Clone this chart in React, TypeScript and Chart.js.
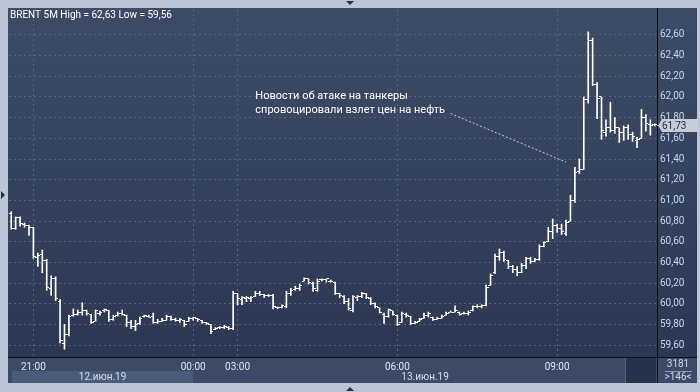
import React, { useEffect, useRef } from 'react';
import { Chart, registerables } from 'chart.js';

Chart.register(...registerables);

// ---- data (5-minute OHLC bars, Brent) ----
const opens = [
  60.87, 60.73, 60.83, 60.77, 60.76, 60.74, 60.45, 60.48, 60.42, 60.15,
  60.24, 60.02, 59.62, 59.70, 59.89, 59.90, 59.92, 59.93, 59.90, 59.83,
  59.91, 59.93, 59.93, 59.85, 59.89, 59.91, 59.89, 59.82, 59.78, 59.81,
  59.88, 59.88, 59.88, 59.82, 59.83, 59.84, 59.88, 59.85, 59.84, 59.84,
  59.83, 59.86, 59.86, 59.84, 59.82, 59.80, 59.75, 59.77, 59.77, 59.77,
  59.76, 60.10, 60.04, 60.05, 60.05, 60.07, 60.10, 60.09, 60.08, 60.08,
  59.96, 59.96, 59.97, 60.10, 60.14, 60.15, 60.22, 60.24, 60.20, 60.13,
  60.23, 60.23, 60.22, 60.21, 60.10, 60.07, 60.02, 59.93, 60.06, 60.07,
  60.10, 60.05, 60.00, 59.96, 59.90, 59.88, 59.93, 59.89, 59.82, 59.90,
  59.88, 59.81, 59.83, 59.86, 59.89, 59.87, 59.85, 59.86, 59.89, 59.92,
  59.92, 59.92, 59.91, 59.91, 59.93, 59.97, 59.97, 59.98, 60.18, 60.30,
  60.46, 60.50, 60.42, 60.36, 60.33, 60.30, 60.37, 60.44, 60.41, 60.43,
  60.55, 60.60, 60.70, 60.76, 60.73, 60.68, 60.80, 61.00, 61.28, 61.30,
  61.98, 62.55, 62.12, 62.00, 61.66, 61.70, 61.68, 61.70, 61.66, 61.70,
  61.64, 61.58, 61.60, 61.80, 61.73, 61.73,
];
const highs = [
  60.89, 60.84, 60.84, 60.78, 60.76, 60.74, 60.49, 60.52, 60.43, 60.27,
  60.26, 60.04, 59.80, 59.89, 59.95, 59.94, 60.01, 59.94, 59.90, 59.94,
  59.93, 59.95, 59.94, 59.89, 59.92, 59.94, 59.89, 59.84, 59.84, 59.87,
  59.89, 59.89, 59.91, 59.85, 59.86, 59.89, 59.88, 59.86, 59.86, 59.84,
  59.87, 59.87, 59.86, 59.84, 59.82, 59.80, 59.77, 59.78, 59.79, 59.78,
  60.12, 60.10, 60.07, 60.07, 60.07, 60.12, 60.12, 60.09, 60.09, 60.09,
  59.97, 59.99, 60.12, 60.15, 60.17, 60.19, 60.25, 60.24, 60.21, 60.24,
  60.24, 60.24, 60.23, 60.21, 60.10, 60.08, 60.05, 60.08, 60.08, 60.11,
  60.10, 60.06, 60.01, 59.96, 59.91, 59.95, 59.93, 59.89, 59.92, 59.91,
  59.88, 59.83, 59.86, 59.91, 59.92, 59.87, 59.87, 59.89, 59.92, 59.93,
  59.98, 59.92, 59.92, 59.93, 59.98, 59.99, 59.99, 60.18, 60.29, 60.48,
  60.53, 60.51, 60.42, 60.37, 60.36, 60.39, 60.45, 60.45, 60.44, 60.57,
  60.60, 60.74, 60.82, 60.77, 60.77, 60.81, 61.05, 61.32, 61.40, 62.00,
  62.63, 62.57, 62.14, 62.00, 61.78, 61.95, 61.80, 61.70, 61.72, 61.73,
  61.66, 61.61, 61.88, 61.83, 61.78, 61.74,
];
const lows = [
  60.72, 60.72, 60.75, 60.74, 60.66, 60.44, 60.36, 60.30, 60.13, 60.08,
  60.03, 59.62, 59.56, 59.69, 59.88, 59.89, 59.89, 59.89, 59.81, 59.83,
  59.89, 59.92, 59.83, 59.84, 59.88, 59.89, 59.78, 59.76, 59.74, 59.80,
  59.87, 59.87, 59.81, 59.81, 59.83, 59.84, 59.84, 59.83, 59.82, 59.78,
  59.83, 59.84, 59.83, 59.81, 59.80, 59.71, 59.75, 59.76, 59.76, 59.75,
  59.75, 59.99, 59.99, 60.02, 60.02, 60.07, 60.08, 60.06, 60.07, 59.95,
  59.95, 59.96, 59.96, 60.08, 60.13, 60.13, 60.22, 60.19, 60.12, 60.12,
  60.22, 60.21, 60.21, 60.09, 60.06, 60.00, 59.94, 59.92, 60.03, 60.06,
  60.05, 59.99, 59.96, 59.91, 59.81, 59.87, 59.89, 59.79, 59.82, 59.87,
  59.80, 59.81, 59.83, 59.86, 59.87, 59.84, 59.85, 59.86, 59.89, 59.92,
  59.92, 59.89, 59.90, 59.89, 59.93, 59.96, 59.96, 59.98, 60.18, 60.29,
  60.42, 60.41, 60.34, 60.30, 60.27, 60.30, 60.34, 60.39, 60.41, 60.42,
  60.55, 60.60, 60.63, 60.69, 60.67, 60.66, 60.80, 60.98, 61.26, 61.30,
  61.94, 62.11, 61.79, 61.59, 61.62, 61.66, 61.65, 61.56, 61.58, 61.59,
  61.57, 61.51, 61.60, 61.67, 61.63, 61.72,
];
const closes = [
  60.73, 60.83, 60.78, 60.76, 60.74, 60.46, 60.47, 60.42, 60.16, 60.24,
  60.05, 59.64, 59.70, 59.88, 59.90, 59.92, 59.93, 59.91, 59.82, 59.93,
  59.92, 59.94, 59.85, 59.88, 59.91, 59.90, 59.82, 59.78, 59.80, 59.86,
  59.89, 59.87, 59.82, 59.83, 59.84, 59.88, 59.85, 59.84, 59.85, 59.80,
  59.86, 59.87, 59.85, 59.82, 59.81, 59.73, 59.76, 59.77, 59.78, 59.76,
  60.10, 60.05, 60.06, 60.06, 60.06, 60.10, 60.09, 60.08, 60.08, 59.97,
  59.96, 59.98, 60.10, 60.13, 60.15, 60.18, 60.24, 60.21, 60.15, 60.22,
  60.23, 60.24, 60.22, 60.10, 60.08, 60.02, 59.95, 60.07, 60.07, 60.10,
  60.06, 60.00, 59.97, 59.92, 59.88, 59.94, 59.90, 59.80, 59.91, 59.89,
  59.81, 59.82, 59.85, 59.89, 59.91, 59.85, 59.86, 59.88, 59.91, 59.92,
  59.93, 59.90, 59.91, 59.92, 59.97, 59.97, 59.98, 60.16, 60.27, 60.46,
  60.50, 60.43, 60.36, 60.33, 60.30, 60.37, 60.44, 60.41, 60.43, 60.55,
  60.59, 60.70, 60.76, 60.73, 60.70, 60.79, 61.00, 61.27, 61.30, 61.98,
  62.55, 62.12, 61.99, 61.68, 61.70, 61.68, 61.70, 61.66, 61.70, 61.64,
  61.62, 61.59, 61.80, 61.74, 61.72, 61.73,
];

// categories: trading sessions of 5-minute bars
const sessions = [
  { start: '20:35', count: 42 },
  { start: '00:05', count: 9 },
  { start: '03:00', count: 95 },
];
const timeTickLabels = ['21:00', '00:00', '03:00', '06:00', '09:00'];
const priceTicks = [
  59.6, 59.8, 60.0, 60.2, 60.4, 60.6, 60.8, 61.0, 61.2, 61.4, 61.6, 61.8,
  62.0, 62.2, 62.4, 62.6,
];
const dateBands = [
  { label: '12.июн.19', from: 0, to: 41 },
  { label: '13.июн.19', from: 41, to: 145 },
];
const instrument = 'BRENT 5M';
const totalBars = 3181;
const noteLines = ['Новости об атаке на танкеры', 'спровоцировали взлет цен на нефть'];
const noteAnchor = { index: 55, price: 62.01 };
const noteLeader = [
  { index: 99, price: 61.84 },
  { index: 125, price: 61.37 },
];

function buildTimes(): string[] {
  const out: string[] = [];
  for (const s of sessions) {
    const [h, m] = s.start.split(':').map(Number);
    let t = h * 60 + m;
    for (let k = 0; k < s.count; k++) {
      const mm = ((t % 1440) + 1440) % 1440;
      out.push(String(Math.floor(mm / 60)).padStart(2, '0') + ':' + String(mm % 60).padStart(2, '0'));
      t += 5;
    }
  }
  return out;
}
const times = buildTimes();

const fmt = (v: number) => v.toFixed(2).replace('.', ',');
const FONT = 'Roboto, "Liberation Sans", Arial, sans-serif';

export default function App() {
  const ref = useRef<HTMLCanvasElement | null>(null);

  useEffect(() => {
    document.body.style.margin = '0';
    const canvas = ref.current!;

    const openTick = document.createElement('canvas');
    openTick.width = 5; openTick.height = 1;
    const oc = openTick.getContext('2d')!;
    oc.fillStyle = '#ffffff'; oc.fillRect(0, 0, 2, 1);
    const closeTick = document.createElement('canvas');
    closeTick.width = 5; closeTick.height = 1;
    const cc = closeTick.getContext('2d')!;
    cc.fillStyle = '#ffffff'; cc.fillRect(3, 0, 2, 1);

    const decor = {
      id: 'decor',
      beforeDraw(chart: any) {
        const { ctx, chartArea: a, scales } = chart;
        const xs = scales.x;
        ctx.save();
        ctx.fillStyle = '#bcc5d3';
        ctx.fillRect(0, 0, 700, 392);
        // panel
        const g = ctx.createLinearGradient(0, a.top, 0, a.bottom);
        g.addColorStop(0, '#3d4b67');
        g.addColorStop(1, '#2c3853');
        ctx.fillStyle = g;
        ctx.fillRect(8, 8, 689, a.bottom - 8);
        // x-axis strip
        ctx.fillStyle = '#3c4a66';
        ctx.fillRect(8, a.bottom, 689, 383 - a.bottom);
        // date bands
        dateBands.forEach((b, k) => {
          const x0 = k === 0 ? a.left + 3 : xs.getPixelForValue(b.from);
          const x1 = k === 0 ? xs.getPixelForValue(b.to) + 2 : a.right;
          ctx.fillStyle = k === 0 ? '#4b5a77' : '#3c4a66';
          ctx.fillRect(x0, 371, x1 - x0, 12);
        });
        ctx.restore();
      },
      afterDraw(chart: any) {
        const { ctx, chartArea: a, scales } = chart;
        const xs = scales.x, ys = scales.y;
        ctx.save();
        // scroll box
        ctx.fillStyle = '#26324b';
        ctx.fillRect(626, a.bottom + 1, 30, 383 - a.bottom - 1);
        ctx.strokeStyle = '#56647f';
        ctx.lineWidth = 1;
        ctx.beginPath(); ctx.moveTo(625.5, a.bottom + 1); ctx.lineTo(625.5, 383); ctx.stroke();
        // separators
        ctx.strokeStyle = '#0b0f18';
        ctx.beginPath();
        ctx.moveTo(a.right + 0.5, 8); ctx.lineTo(a.right + 0.5, 383);
        ctx.moveTo(8, a.bottom + 0.5); ctx.lineTo(697, a.bottom + 0.5);
        ctx.stroke();
        // date labels
        ctx.font = '10px ' + FONT;
        ctx.fillStyle = '#d3def0';
        ctx.textAlign = 'center';
        ctx.textBaseline = 'middle';
        dateBands.forEach((b, k) => {
          const x0 = k === 0 ? a.left + 3 : xs.getPixelForValue(b.from);
          const x1 = k === 0 ? xs.getPixelForValue(b.to) : a.right;
          ctx.fillText(b.label, (x0 + x1) / 2, 377.5);
        });
        // bottom-right counter box
        ctx.fillStyle = '#c9d7ef';
        ctx.fillText(String(totalBars), 678, 364.5);
        ctx.fillText('>' + opens.length + '<', 678, 377.5);
        ctx.strokeStyle = '#8797b4';
        ctx.beginPath(); ctx.moveTo(665, 371.5); ctx.lineTo(692, 371.5); ctx.stroke();
        // title
        const hi = Math.max(...highs), lo = Math.min(...lows);
        ctx.textAlign = 'left';
        ctx.fillStyle = '#ffffff';
        ctx.font = '10px ' + FONT;
        ctx.fillText(`${instrument} High = ${fmt(hi)} Low = ${fmt(lo)}`, 10, 15);
        // note
        ctx.font = '11px ' + FONT;
        const nx = xs.getPixelForValue(noteAnchor.index);
        const ny = ys.getPixelForValue(noteAnchor.price);
        noteLines.forEach((t, k) => ctx.fillText(t, nx, ny + k * 14));
        ctx.strokeStyle = '#c3cad6';
        ctx.setLineDash([2, 2]);
        ctx.beginPath();
        ctx.moveTo(xs.getPixelForValue(noteLeader[0].index), ys.getPixelForValue(noteLeader[0].price));
        ctx.lineTo(xs.getPixelForValue(noteLeader[1].index), ys.getPixelForValue(noteLeader[1].price));
        ctx.stroke();
        // last price marker
        const last = closes[closes.length - 1];
        const py = Math.round(ys.getPixelForValue(last));
        const lx = xs.getPixelForValue(closes.length - 1);
        ctx.strokeStyle = '#d8dee8';
        ctx.beginPath(); ctx.moveTo(lx + 3, py + 0.5); ctx.lineTo(a.right, py + 0.5); ctx.stroke();
        ctx.setLineDash([]);
        ctx.fillStyle = '#c7ccd4';
        ctx.beginPath();
        ctx.moveTo(a.right + 1, py + 0.5);
        ctx.lineTo(a.right + 5, py - 6);
        ctx.lineTo(697, py - 6);
        ctx.lineTo(697, py + 7);
        ctx.lineTo(a.right + 5, py + 7);
        ctx.closePath();
        ctx.fill();
        ctx.fillStyle = '#1a2946';
        ctx.font = '10px ' + FONT;
        ctx.textBaseline = 'middle';
        ctx.fillText(fmt(last), a.right + 5, py + 1);
        // frame arrows
        ctx.fillStyle = '#2a2f38';
        ctx.beginPath(); ctx.moveTo(346, 1); ctx.lineTo(354, 1); ctx.lineTo(350, 5); ctx.closePath(); ctx.fill();
        ctx.beginPath(); ctx.moveTo(346, 391); ctx.lineTo(354, 391); ctx.lineTo(350, 387); ctx.closePath(); ctx.fill();
        ctx.beginPath(); ctx.moveTo(1, 191); ctx.lineTo(1, 199); ctx.lineTo(5, 195); ctx.closePath(); ctx.fill();
        ctx.restore();
      },
    };

    const chart = new Chart(canvas, {
      type: 'bar',
      data: {
        labels: times,
        datasets: [
          {
            type: 'bar',
            data: lows.map((l, i) => [l, highs[i]]) as any,
            backgroundColor: '#ffffff',
            borderWidth: 0,
            barThickness: 1,
            grouped: false,
          } as any,
          {
            type: 'line',
            data: opens,
            showLine: false,
            pointStyle: openTick as any,
            pointRadius: 1,
            pointHoverRadius: 0,
          } as any,
          {
            type: 'line',
            data: closes,
            showLine: false,
            pointStyle: closeTick as any,
            pointRadius: 1,
            pointHoverRadius: 0,
          } as any,
        ],
      },
      options: {
        responsive: false,
        devicePixelRatio: 1,
        animation: false,
        events: [],
        layout: { padding: { left: 9, top: 8, right: 3, bottom: 9 } },
        plugins: { legend: { display: false }, tooltip: { enabled: false } },
        scales: {
          x: {
            type: 'category',
            offset: true,
            grid: { offset: false, color: '#56657f', lineWidth: 1, drawTicks: false },
            border: { display: false, dash: [2, 3] },
            ticks: {
              autoSkip: false,
              maxRotation: 0,
              minRotation: 0,
              padding: 4,
              color: '#dbe4f2',
              font: { family: FONT, size: 10 },
            },
            afterBuildTicks: (scale: any) => {
              scale.ticks = scale.ticks.filter((t: any) => timeTickLabels.includes(times[t.value]));
            },
            afterFit: (scale: any) => { scale.height = 26; },
          },
          y: {
            type: 'linear',
            position: 'right',
            min: 59.485,
            max: 62.851,
            grid: { color: '#56657f', lineWidth: 1, drawTicks: false },
            border: { display: false, dash: [2, 3] },
            ticks: {
              padding: 3,
              color: '#c3d4ef',
              font: { family: FONT, size: 10 },
              callback: (v: any) => fmt(Number(v)),
            },
            afterBuildTicks: (scale: any) => {
              scale.ticks = priceTicks.map((v) => ({ value: v }));
            },
            afterFit: (scale: any) => { scale.width = 40; },
          },
        },
      },
      plugins: [decor],
    } as any);

    return () => chart.destroy();
  }, []);

  return (
    <div style={{ width: 700, height: 392 }}>
      <canvas ref={ref} width={700} height={392} style={{ display: 'block' }} />
    </div>
  );
}
